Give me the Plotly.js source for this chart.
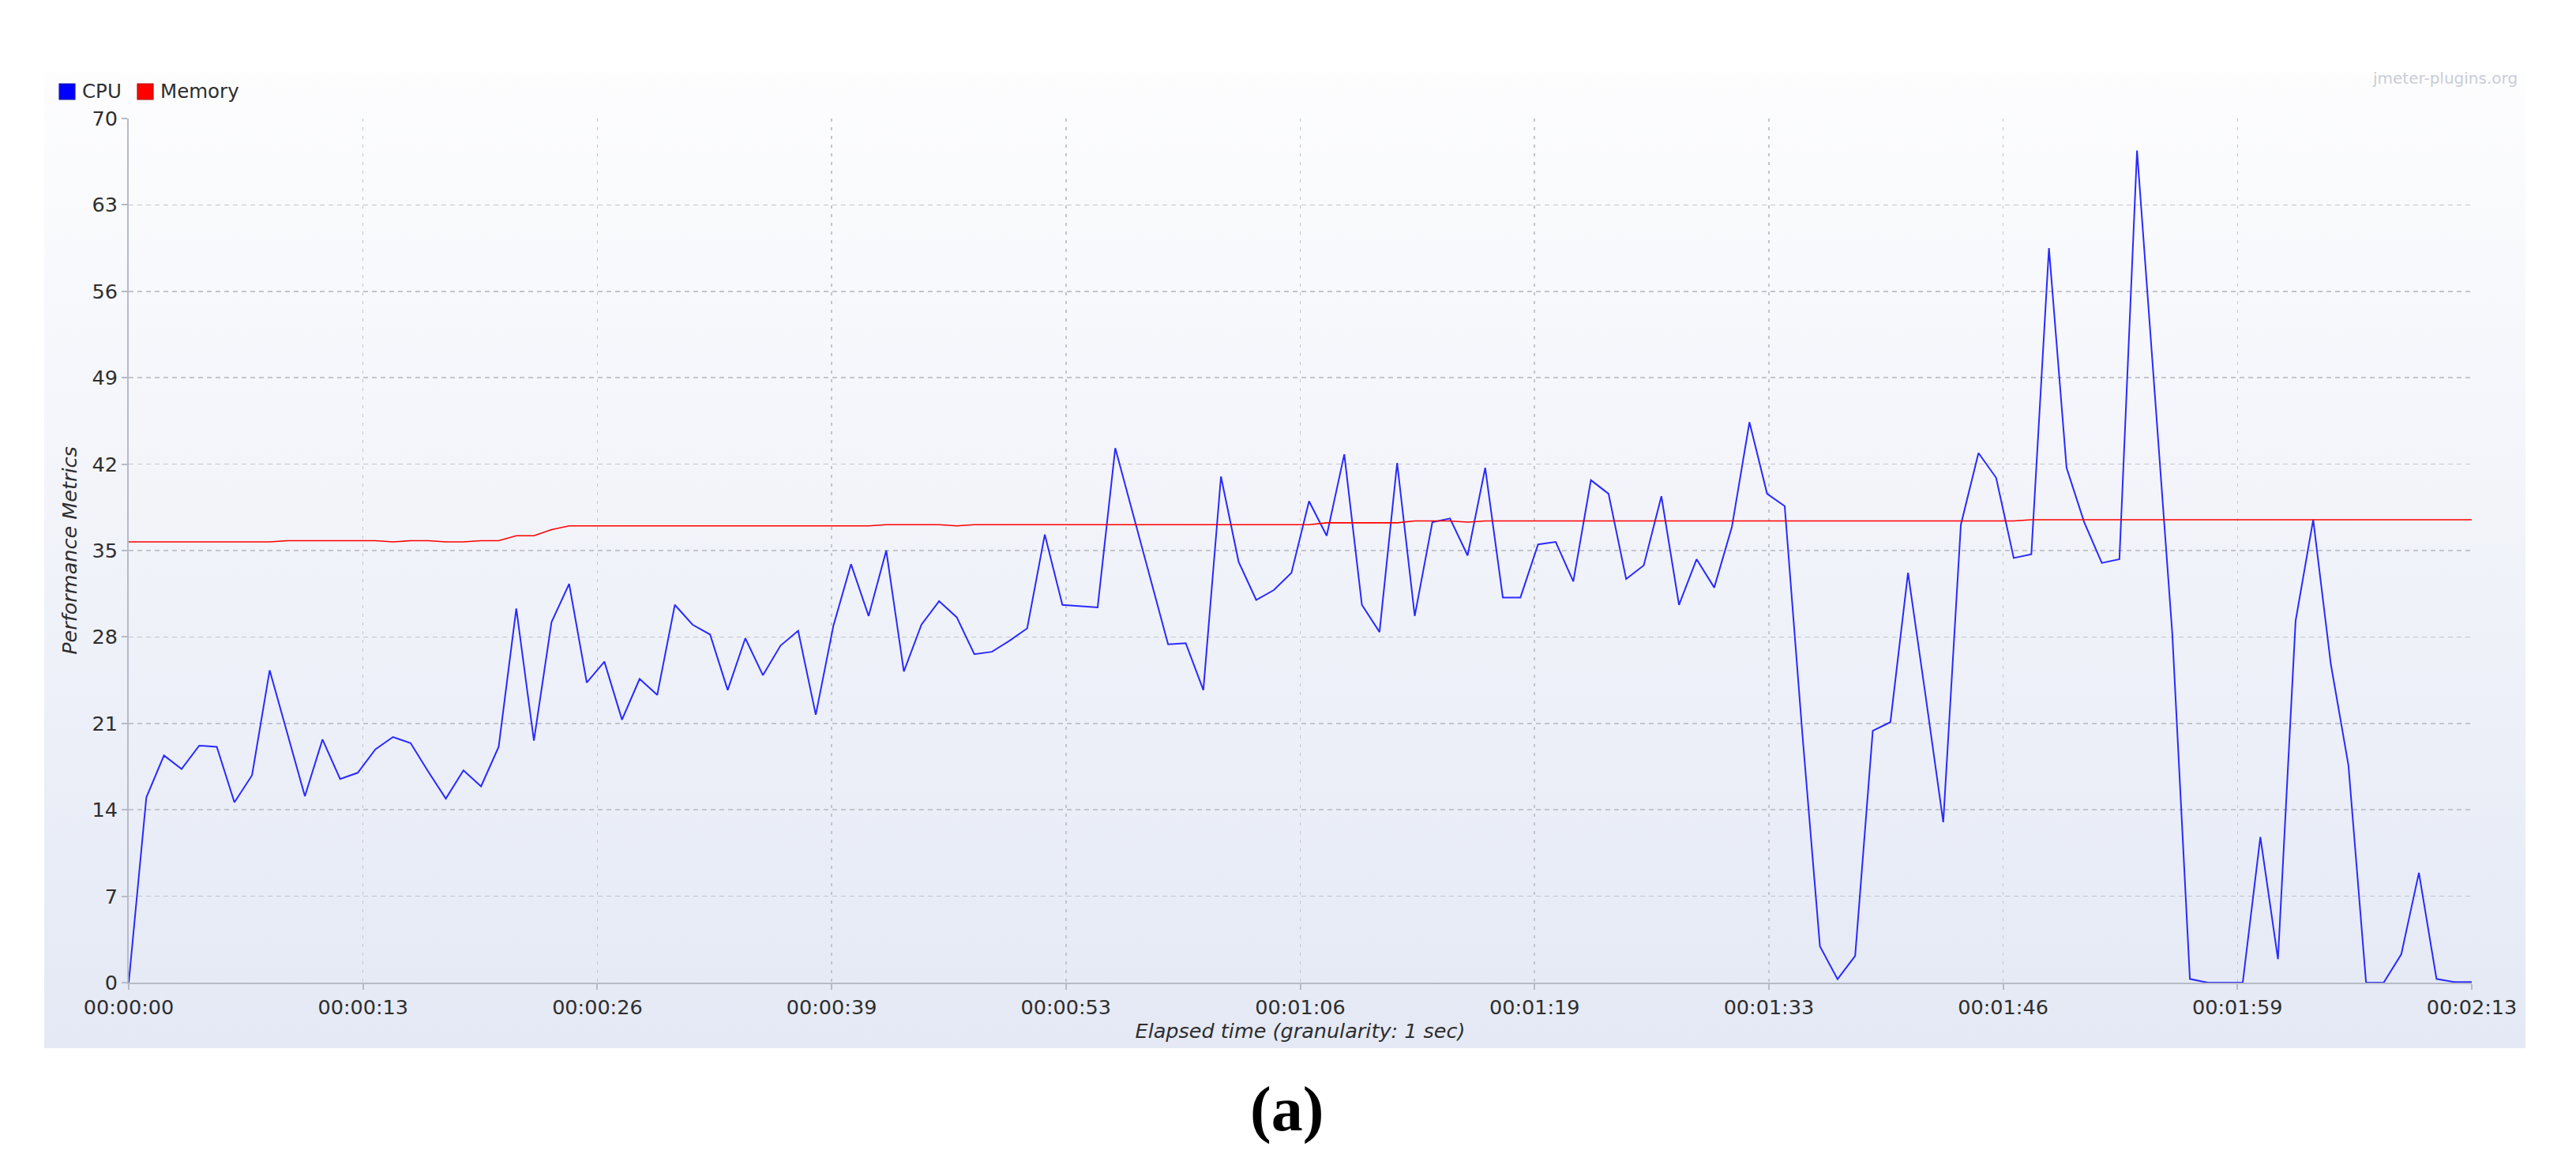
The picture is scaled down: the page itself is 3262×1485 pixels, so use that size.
<!DOCTYPE html>
<html>
<head>
<meta charset="utf-8">
<script src="https://cdn.plot.ly/plotly-3.0.1.min.js"></script>
<style>
html, body { margin: 0; padding: 0; background: #ffffff; }
#wrap { position: relative; width: 3262px; height: 1485px; overflow: hidden; }
#panel { position: absolute; left: 56px; top: 92px; width: 3142px; height: 1235px;
         background: linear-gradient(to bottom, #fdfdfe 0%, #f2f4fa 45%, #e4e9f5 100%); }
#chart { position: absolute; left: 0; top: 0; width: 3262px; height: 1485px; }
</style>
</head>
<body>
<div id="wrap"><div id="panel"></div><div id="chart"></div></div>
<script>
// ---- data ----
const seconds = [
  0,1,2,3,4,5,6,7,8,9,
  10,11,12,13,14,15,16,17,18,19,
  20,21,22,23,24,25,26,27,28,29,
  30,31,32,33,34,35,36,37,38,39,
  40,41,42,43,44,45,46,47,48,49,
  50,51,52,53,54,55,56,57,58,59,
  60,61,62,63,64,65,66,67,68,69,
  70,71,72,73,74,75,76,77,78,79,
  80,81,82,83,84,85,86,87,88,89,
  90,91,92,93,94,95,96,97,98,99,
  100,101,102,103,104,105,106,107,108,109,
  110,111,112,113,114,115,116,117,118,119,
  120,121,122,123,124,125,126,127,128,129,
  130,131,132,133
];

const cpu = [
  0, 15.0, 18.4, 17.3, 19.2, 19.1, 14.6, 16.8, 25.3, 20.2,
  15.1, 19.7, 16.5, 17.0, 18.9, 19.9, 19.4, 17.1, 14.9, 17.2,
  15.9, 19.1, 30.3, 19.6, 29.2, 32.3, 24.3, 26.0, 21.3, 24.6,
  23.3, 30.6, 29.0, 28.2, 23.7, 27.9, 24.9, 27.3, 28.5, 21.7,
  28.9, 33.9, 29.7, 35.0, 25.2, 29.0, 30.9, 29.6, 26.6, 26.8,
  27.7, 28.7, 36.3, 30.6, 30.5, 30.4, 43.3, 38.0, 32.7, 27.4,
  27.5, 23.7, 41.0, 34.1, 31.0, 31.8, 33.2, 39.0, 36.2, 42.8,
  30.6, 28.4, 42.1, 29.7, 37.3, 37.6, 34.6, 41.7, 31.2, 31.2,
  35.5, 35.7, 32.5, 40.7, 39.6, 32.7, 33.8, 39.4, 30.6, 34.3,
  32.0, 36.9, 45.4, 39.6, 38.6, 20.2, 2.95, 0.28, 2.17, 20.4,
  21.1, 33.2, 23.2, 13.0, 37.1, 42.9, 40.9, 34.4, 34.7, 59.5,
  41.7, 37.3, 34.0, 34.3, 67.4, 48.0, 28.3, 0.3, 0, 0,
  0, 11.8, 1.9, 29.3, 37.5, 25.8, 17.6, 0, 0, 2.3,
  8.9, 0.3, 0.05, 0.05
];

const memory = [
  35.7, 35.7, 35.7, 35.7, 35.7, 35.7, 35.7, 35.7, 35.7, 35.8,
  35.8, 35.8, 35.8, 35.8, 35.8, 35.7, 35.8, 35.8, 35.7, 35.7,
  35.8, 35.8, 36.2, 36.2, 36.7, 37.0, 37.0, 37.0, 37.0, 37.0,
  37.0, 37.0, 37.0, 37.0, 37.0, 37.0, 37.0, 37.0, 37.0, 37.0,
  37.0, 37.0, 37.0, 37.1, 37.1, 37.1, 37.1, 37.0, 37.1, 37.1,
  37.1, 37.1, 37.1, 37.1, 37.1, 37.1, 37.1, 37.1, 37.1, 37.1,
  37.1, 37.1, 37.1, 37.1, 37.1, 37.1, 37.1, 37.1, 37.25, 37.25,
  37.25, 37.25, 37.25, 37.4, 37.4, 37.4, 37.3, 37.4, 37.4, 37.4,
  37.4, 37.4, 37.4, 37.4, 37.4, 37.4, 37.4, 37.4, 37.4, 37.4,
  37.4, 37.4, 37.4, 37.4, 37.4, 37.4, 37.4, 37.4, 37.4, 37.4,
  37.4, 37.4, 37.4, 37.4, 37.4, 37.4, 37.4, 37.4, 37.5, 37.5,
  37.5, 37.5, 37.5, 37.5, 37.5, 37.5, 37.5, 37.5, 37.5, 37.5,
  37.5, 37.5, 37.5, 37.5, 37.5, 37.5, 37.5, 37.5, 37.5, 37.5,
  37.5, 37.5, 37.5, 37.5
];

const xTickVals = [0, 13.3, 26.6, 39.9, 53.2, 66.5, 79.8, 93.1, 106.4, 119.7, 133];
const xTickText = ['00:00:00','00:00:13','00:00:26','00:00:39','00:00:53','00:01:06',
                   '00:01:19','00:01:33','00:01:46','00:01:59','00:02:13'];
const yTickVals = [0, 7, 14, 21, 28, 35, 42, 49, 56, 63, 70];
const yTickText = ['0','7','14','21','28','35','42','49','56','63','70'];

const seriesNames = ['CPU', 'Memory'];
const seriesColors = ['#2a2aff', '#ff0000'];
const xTitle = 'Elapsed time (granularity: 1 sec)';
const yTitle = 'Performance Metrics';
const watermark = 'jmeter-plugins.org';
const panelLabel = '(a)';

// ---- layout geometry ----
const W = 3262, H = 1485;
const ML = 163, MR = 132, MT = 150, MB = 241;
const PW = W - ML - MR, PH = H - MT - MB;
const px = x => (x - ML) / PW;          // page px -> paper x
const py = y => (H - MB - y) / PH;      // page px -> paper y
const FONT = 'DejaVu Sans, Liberation Sans, sans-serif';
const TXT = '#2e2e2e';
const AXC = '#b6bac6';
const GRIDC = '#c3c5cb';

const traces = [
  { x: seconds, y: cpu, type: 'scatter', mode: 'lines', name: seriesNames[0],
    line: { color: seriesColors[0], width: 2 }, hoverinfo: 'skip' },
  { x: seconds, y: memory, type: 'scatter', mode: 'lines', name: seriesNames[1],
    line: { color: seriesColors[1], width: 1.6 }, hoverinfo: 'skip' }
];

// custom legend: squares + labels
const legendBoxes = [ {x0: 75, x1: 95}, {x0: 174, x1: 194} ];
const legendTextX = [102, 201];
const shapes = legendBoxes.map((b, i) => ({
  type: 'rect', xref: 'paper', yref: 'paper',
  x0: px(b.x0), x1: px(b.x1), y0: py(126), y1: py(106),
  fillcolor: i === 0 ? '#0000ff' : '#ff0000',
  line: { color: i === 0 ? '#2020a0' : '#b01010', width: 1.2 }
}));

const annotations = [
  ...seriesNames.map((n, i) => ({
    text: n, xref: 'paper', yref: 'paper', x: px(legendTextX[i]), y: py(116),
    xanchor: 'left', yanchor: 'middle', showarrow: false,
    font: { family: FONT, size: 24.5, color: TXT }
  })),
  { text: watermark, xref: 'paper', yref: 'paper', x: px(3190), y: py(99),
    xanchor: 'right', yanchor: 'middle', showarrow: false,
    font: { family: FONT, size: 20, color: '#c9cdd6' } },
  { text: '<b>' + panelLabel + '</b>', xref: 'paper', yref: 'paper', x: px(1629), y: py(1404),
    xanchor: 'center', yanchor: 'middle', showarrow: false,
    font: { family: 'Liberation Serif, DejaVu Serif, serif', size: 80, color: '#000000' } }
];

const layout = {
  width: W, height: H, autosize: false,
  margin: { l: ML, r: MR, t: MT, b: MB, pad: 0 },
  paper_bgcolor: 'rgba(0,0,0,0)', plot_bgcolor: 'rgba(0,0,0,0)',
  showlegend: false,
  font: { family: FONT, size: 25.5, color: TXT },
  xaxis: {
    range: [0, 133], tickmode: 'array', tickvals: xTickVals, ticktext: xTickText,
    ticks: 'outside', ticklen: 7, tickwidth: 2, tickcolor: AXC,
    showline: true, linecolor: AXC, linewidth: 2,
    showgrid: true, gridcolor: GRIDC, gridwidth: 1.5, griddash: '4px,7px',
    zeroline: false, fixedrange: true, automargin: true,
    tickfont: { family: FONT, size: 25.5, color: TXT },
    title: { text: xTitle, standoff: 8, font: { family: FONT, size: 25.5, color: TXT, style: 'italic' } }
  },
  yaxis: {
    range: [0, 70], tickmode: 'array', tickvals: yTickVals, ticktext: yTickText,
    ticks: 'outside', ticklen: 7, tickwidth: 2, tickcolor: AXC,
    showline: true, linecolor: AXC, linewidth: 2,
    showgrid: true, gridcolor: GRIDC, gridwidth: 1.5, griddash: '6px,5px',
    zeroline: false, fixedrange: true, automargin: true,
    tickfont: { family: FONT, size: 25.5, color: TXT },
    title: { text: yTitle, standoff: 12, font: { family: FONT, size: 25.5, color: TXT, style: 'italic' } }
  },
  shapes: shapes,
  annotations: annotations
};

Plotly.newPlot('chart', traces, layout, { staticPlot: true, displayModeBar: false });
</script>
</body>
</html>
